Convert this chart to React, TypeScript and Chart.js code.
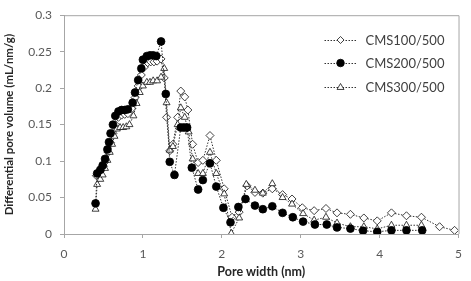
import React, { useEffect, useRef } from "react";
import { Chart, registerables } from "chart.js";

Chart.register(...registerables);

const seriesNames = ["CMS100/500", "CMS200/500", "CMS300/500"];

const cms100X = [0.41,0.44,0.47,0.50,0.53,0.56,0.59,0.62,0.65,0.69,0.73,0.77,0.81,0.86,0.90,0.94,0.98,1.02,1.06,1.10,1.14,1.18,1.23,1.27,1.30,1.34,1.38,1.44,1.48,1.53,1.57,1.63,1.70,1.76,1.85,1.93,2.03,2.13,2.22,2.32,2.42,2.52,2.64,2.77,2.89,3.02,3.17,3.32,3.46,3.63,3.80,3.97,4.15,4.34,4.53,4.76,4.95];
const cms100Y = [0.080,0.085,0.088,0.093,0.100,0.112,0.125,0.138,0.150,0.160,0.163,0.164,0.165,0.172,0.187,0.203,0.218,0.229,0.235,0.236,0.236,0.237,0.240,0.214,0.160,0.114,0.123,0.160,0.196,0.188,0.170,0.123,0.098,0.101,0.135,0.101,0.062,0.023,0.030,0.066,0.057,0.056,0.062,0.054,0.048,0.036,0.032,0.035,0.029,0.027,0.022,0.018,0.029,0.025,0.023,0.010,0.005];

const cms200X = [0.40,0.42,0.46,0.49,0.52,0.55,0.57,0.59,0.62,0.65,0.69,0.73,0.77,0.81,0.87,0.90,0.94,0.98,1.00,1.05,1.09,1.13,1.17,1.23,1.29,1.34,1.40,1.48,1.52,1.56,1.62,1.70,1.76,1.85,1.93,2.02,2.11,2.21,2.30,2.42,2.52,2.64,2.77,2.90,3.03,3.18,3.33,3.46,3.63,3.79,3.97,4.15,4.34,4.54];
const cms200Y = [0.042,0.083,0.088,0.094,0.103,0.116,0.126,0.138,0.150,0.162,0.168,0.170,0.170,0.171,0.180,0.194,0.211,0.227,0.239,0.244,0.245,0.245,0.244,0.264,0.192,0.099,0.081,0.146,0.146,0.146,0.091,0.061,0.074,0.097,0.065,0.036,0.016,0.037,0.048,0.039,0.034,0.038,0.029,0.023,0.017,0.013,0.013,0.009,0.0074,0.0045,0.003,0.005,0.005,0.005];

const cms300X = [0.40,0.42,0.46,0.49,0.52,0.55,0.58,0.61,0.64,0.67,0.71,0.75,0.79,0.83,0.88,0.92,0.96,1.00,1.05,1.09,1.13,1.18,1.23,1.27,1.30,1.34,1.38,1.44,1.48,1.53,1.58,1.63,1.70,1.76,1.85,1.93,2.03,2.12,2.22,2.31,2.42,2.52,2.64,2.77,2.89,3.03,3.17,3.32,3.46,3.63,3.80,3.97,4.15,4.34,4.53];
const cms300Y = [0.034,0.068,0.075,0.081,0.090,0.101,0.112,0.123,0.134,0.144,0.146,0.146,0.147,0.150,0.162,0.179,0.194,0.203,0.208,0.208,0.210,0.210,0.215,0.227,0.180,0.115,0.120,0.150,0.173,0.160,0.140,0.103,0.083,0.083,0.112,0.083,0.055,0.001,0.022,0.068,0.060,0.056,0.069,0.050,0.041,0.028,0.019,0.023,0.015,0.010,0.010,0.007,0.012,0.012,0.012];

const xTickValues = [0, 1, 2, 3, 4, 5];
const yTickValues = [0, 0.05, 0.1, 0.15, 0.2, 0.25, 0.3];

const toPoints = (xs: number[], ys: number[]) => xs.map((x, i) => ({ x, y: ys[i] }));

const FONT = "Lato, 'Open Sans', sans-serif";
const LINE_COLOR = "#333333";
const AXIS_COLOR = "#a6a6a6";

const frameAndLegend = {
  id: "frameAndLegend",
  afterDatasetsDraw(chart: any) {
    const { ctx, chartArea } = chart;
    ctx.save();
    ctx.strokeStyle = AXIS_COLOR;
    ctx.lineWidth = 1;
    ctx.beginPath();
    ctx.moveTo(chartArea.left, chartArea.top + 0.5);
    ctx.lineTo(chartArea.right + 0.5, chartArea.top + 0.5);
    ctx.lineTo(chartArea.right + 0.5, chartArea.bottom);
    ctx.stroke();

    const rowsY = [40, 63, 87];
    const lineStart = chartArea.right - 134;
    const lineEnd = chartArea.right - 102;
    const markX = (lineStart + lineEnd) / 2;
    const textX = chartArea.right - 93;
    chart.data.datasets.forEach((ds: any, i: number) => {
      const y = rowsY[i];
      ctx.strokeStyle = LINE_COLOR;
      ctx.setLineDash([1.5, 1.5]);
      ctx.lineWidth = 1;
      ctx.beginPath();
      ctx.moveTo(lineStart, y + 0.5);
      ctx.lineTo(lineEnd, y + 0.5);
      ctx.stroke();
      ctx.setLineDash([]);
      ctx.fillStyle = ds.pointBackgroundColor;
      ctx.strokeStyle = ds.pointBorderColor;
      ctx.lineWidth = 0.8;
      const r = 3.5;
      ctx.beginPath();
      if (ds.pointStyle === "rectRot") {
        ctx.moveTo(markX, y - r);
        ctx.lineTo(markX + r, y);
        ctx.lineTo(markX, y + r);
        ctx.lineTo(markX - r, y);
        ctx.closePath();
      } else if (ds.pointStyle === "triangle") {
        ctx.moveTo(markX, y - r);
        ctx.lineTo(markX + r, y + r * 0.7);
        ctx.lineTo(markX - r, y + r * 0.7);
        ctx.closePath();
      } else {
        ctx.arc(markX, y, 3.8, 0, Math.PI * 2);
      }
      ctx.fill();
      ctx.stroke();
      ctx.fillStyle = "#404040";
      ctx.font = `13px ${FONT}`;
      ctx.textBaseline = "middle";
      ctx.textAlign = "left";
      ctx.fillText(ds.label, textX, y + 1);
    });
    ctx.restore();
  },
};

export default function App() {
  const ref = useRef<HTMLCanvasElement>(null);
  useEffect(() => {
    document.body.style.margin = "0";
    const common = {
      showLine: true,
      borderColor: LINE_COLOR,
      borderWidth: 1,
      borderDash: [1.5, 1.5],
      pointBorderColor: "#111111",
      pointBorderWidth: 0.8,
      tension: 0,
    };
    const chart = new Chart(ref.current as HTMLCanvasElement, {
      type: "scatter",
      data: {
        datasets: [
          {
            ...common,
            label: seriesNames[0],
            data: toPoints(cms100X, cms100Y),
            pointStyle: "rectRot",
            pointRadius: 4,
            pointBackgroundColor: "#ffffff",
            order: 2,
          },
          {
            ...common,
            label: seriesNames[1],
            data: toPoints(cms200X, cms200Y),
            pointStyle: "circle",
            pointRadius: 3.9,
            pointBackgroundColor: "#000000",
            pointBorderColor: "#000000",
            order: 0,
          },
          {
            ...common,
            label: seriesNames[2],
            data: toPoints(cms300X, cms300Y),
            pointStyle: "triangle",
            pointRadius: 4,
            pointBackgroundColor: "#ffffff",
            order: 1,
          },
        ] as any,
      },
      options: {
        responsive: false,
        animation: false,
        devicePixelRatio: 1,
        layout: { padding: { top: 4, right: 12, left: 0, bottom: 0 } },
        plugins: { legend: { display: false }, tooltip: { enabled: false } },
        scales: {
          x: {
            type: "linear",
            min: 0,
            max: 5,
            afterBuildTicks: (s: any) => {
              s.ticks = xTickValues.map((v) => ({ value: v }));
            },
            afterFit: (s: any) => {
              s.height = 47;
            },
            grid: {
              display: true,
              drawOnChartArea: false,
              drawTicks: true,
              tickLength: 4,
              color: AXIS_COLOR,
            },
            border: { display: true, color: AXIS_COLOR },
            ticks: {
              color: "#595959",
              font: { family: FONT, size: 12 },
              padding: 9,
              callback: (v: any) => String(v),
            },
            title: {
              display: true,
              text: "Pore width (nm)",
              color: "#262626",
              font: { family: FONT, size: 12.5, weight: "bold" },
              padding: { top: 4, bottom: 2 },
            },
          },
          y: {
            type: "linear",
            min: 0,
            max: 0.3,
            afterBuildTicks: (s: any) => {
              s.ticks = yTickValues.map((v) => ({ value: v }));
            },
            afterFit: (s: any) => {
              s.width = 64;
            },
            grid: {
              display: true,
              drawOnChartArea: false,
              drawTicks: true,
              tickLength: 4,
              color: AXIS_COLOR,
            },
            border: { display: true, color: AXIS_COLOR },
            ticks: {
              color: "#595959",
              font: { family: FONT, size: 12 },
              padding: 8,
              callback: (v: any) => String(+Number(v).toFixed(2)),
            },
            title: {
              display: true,
              text: "Differential pore volume (mL/nm/g)",
              color: "#262626",
              font: { family: FONT, size: 11.5, weight: "bold" },
              padding: { top: 2, bottom: 4 },
            },
          },
        },
      },
      plugins: [frameAndLegend],
    });
    return () => chart.destroy();
  }, []);
  return (
    <div style={{ width: 471, height: 281, background: "#fff" }}>
      <canvas ref={ref} width={471} height={281} />
    </div>
  );
}
